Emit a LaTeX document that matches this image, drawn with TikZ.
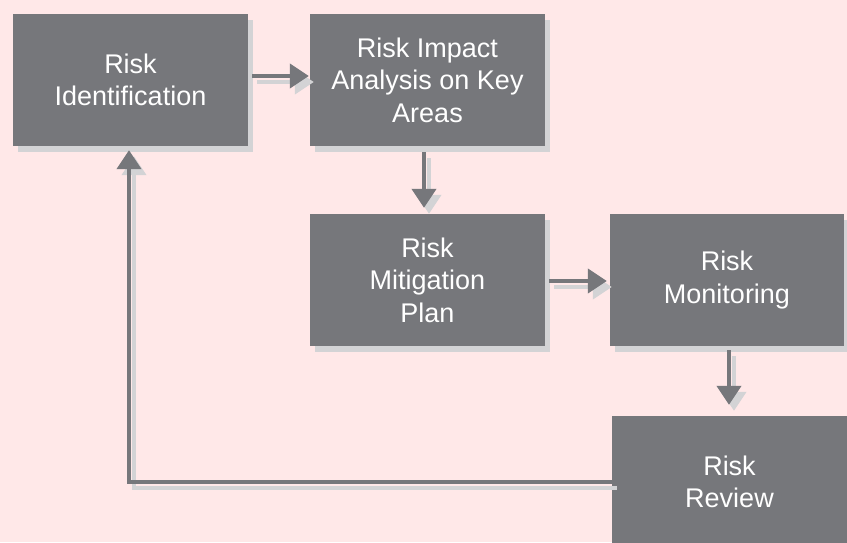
\documentclass[tikz,border=0pt]{standalone}
\usepackage{fontspec}
\setmainfont{Liberation Sans}
\usepackage{tikz}
\usetikzlibrary{arrows.meta,shadows}

\definecolor{pagepink}{RGB}{255,232,232}
\definecolor{boxgray}{RGB}{118,119,123}
\definecolor{shadowgray}{RGB}{211,211,213}

\begin{document}
\begin{tikzpicture}[x=1pt,y=-1pt]
  \tikzstyle{stage}=[rectangle, fill=boxgray, inner sep=0pt, minimum width=235pt, minimum height=132pt, text=white, align=center, font=\fontsize{27}{32.5}\selectfont, general shadow={fill=shadowgray, shadow xshift=5pt, shadow yshift=-6pt}]
  \tikzstyle{flow}=[line width=4pt, draw=boxgray, -{Triangle[length=19pt,width=24pt]}]
  \tikzstyle{flowshadow}=[flow, draw=shadowgray, transform canvas={shift={(5pt,-6pt)}}]
  \fill[pagepink] (0,0) rectangle (847,542);
  \useasboundingbox (0,0) rectangle (847,542);
  \clip (0,0) rectangle (847,542);
  % steps
  \node[stage] (ident) at (130.5,80) {Risk\\Identification};
  \node[stage] (impact) at (427.5,80) {Risk Impact\\Analysis on Key\\Areas};
  \node[stage] (mitig) at (427.5,280) {Risk\\Mitigation\\Plan};
  \node[stage, minimum width=234pt] (monitor) at (727,280) {Risk\\Monitoring};
  \node[stage] (review) at (729.5,482) {Risk\\Review};
  % arrow shadows
  \draw[flowshadow, shorten <=4pt, shorten >=1pt] ([yshift=4pt]ident.east) -- ([yshift=4pt]impact.west);
  \draw[flowshadow, shorten <=6pt, shorten >=6pt] ([xshift=-3.5pt]impact.south) -- ([xshift=-3.5pt]mitig.north);
  \draw[flowshadow, shorten <=4pt, shorten >=3pt] ([yshift=-1pt]mitig.east) -- ([yshift=-1pt]monitor.west);
  \draw[flowshadow, shorten <=4pt, shorten >=11pt] ([xshift=2pt]monitor.south) -- ([xshift=2pt]monitor.south |- review.north);
  \draw[flowshadow, shorten >=4pt] (review.west) -| ([xshift=-1.5pt]ident.south);
  % arrows
  \draw[flow, shorten <=4pt, shorten >=1pt] ([yshift=4pt]ident.east) -- ([yshift=4pt]impact.west);
  \draw[flow, shorten <=6pt, shorten >=6pt] ([xshift=-3.5pt]impact.south) -- ([xshift=-3.5pt]mitig.north);
  \draw[flow, shorten <=4pt, shorten >=3pt] ([yshift=-1pt]mitig.east) -- ([yshift=-1pt]monitor.west);
  \draw[flow, shorten <=4pt, shorten >=11pt] ([xshift=2pt]monitor.south) -- ([xshift=2pt]monitor.south |- review.north);
  \draw[flow, shorten >=4pt] (review.west) -| ([xshift=-1.5pt]ident.south);
\end{tikzpicture}
\end{document}
